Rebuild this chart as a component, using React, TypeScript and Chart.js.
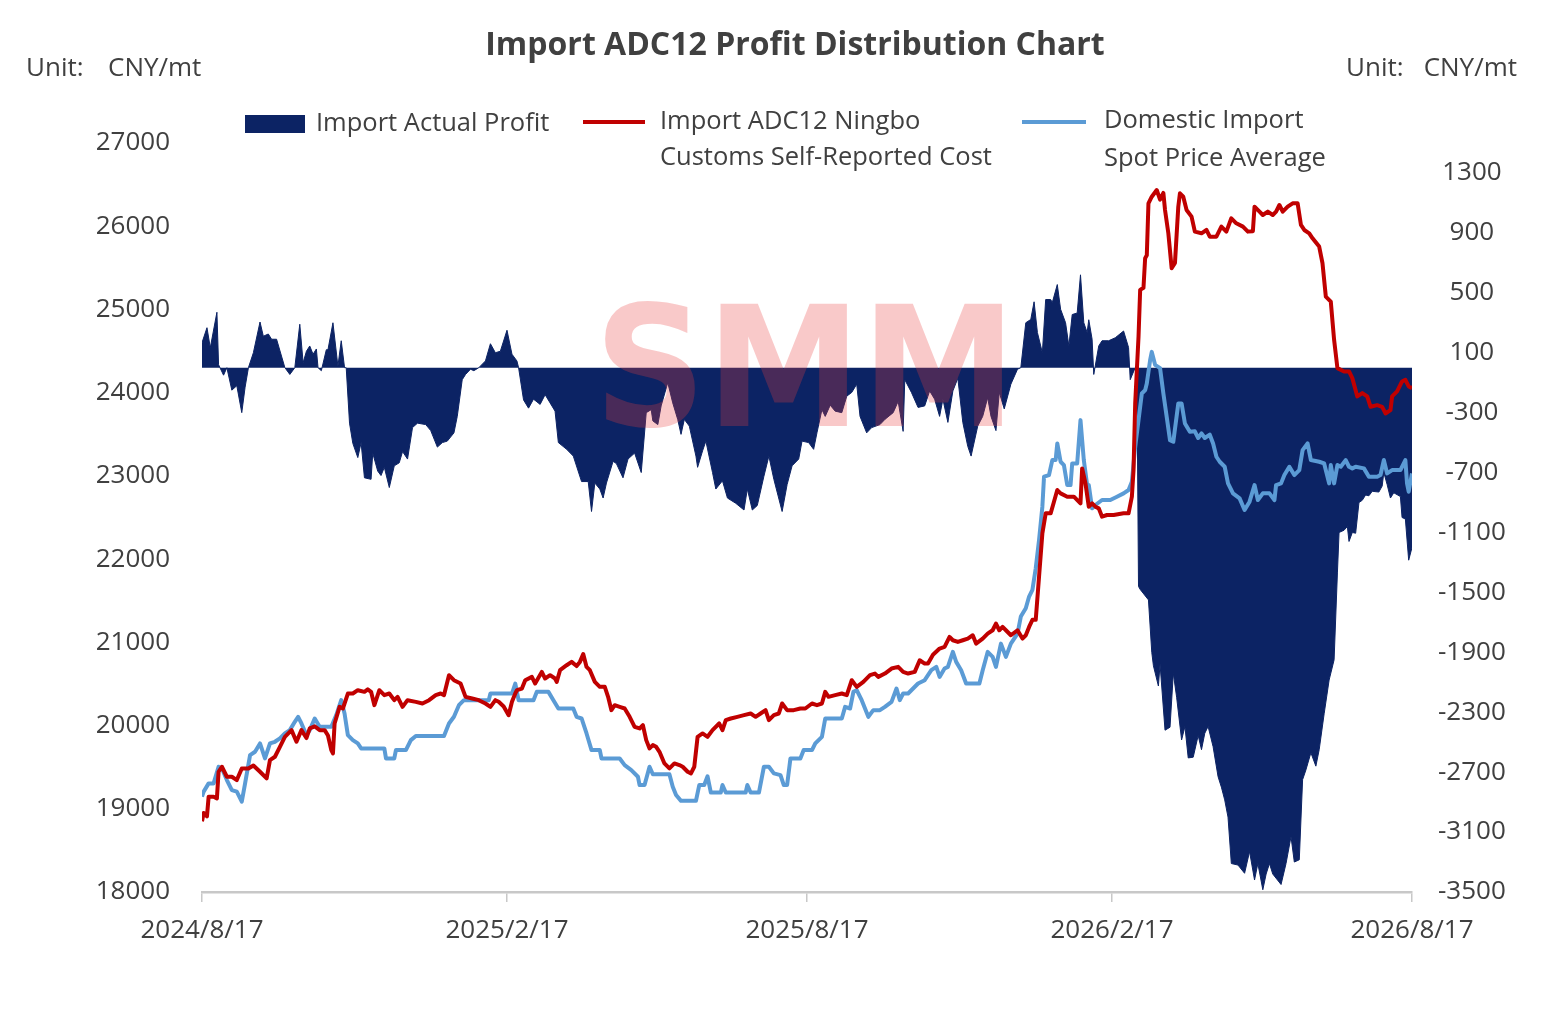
import React, { useEffect, useRef } from "react";
import Chart from "chart.js/auto";

// x values are days counted from 2024/8/17
const xTickDays = [0, 184, 365, 549, 730];
const xTickLabels = ["2024/8/17", "2025/2/17", "2025/8/17", "2026/2/17", "2026/8/17"];
const leftTicks = [18000, 19000, 20000, 21000, 22000, 23000, 24000, 25000, 26000, 27000];
const rightTicks = [-3500, -3100, -2700, -2300, -1900, -1500, -1100, -700, -300, 100, 500, 900, 1300];

// Import Actual Profit (right axis)
const profitDays = [
  0, 3, 5, 9, 10, 13, 15, 18, 21, 24, 26, 28, 31, 35, 37, 40, 42, 45, 50, 53, 56, 59, 61, 63, 65, 67, 69, 70,
  72, 75, 76, 79, 82, 84, 86, 87, 89, 91, 94, 96, 98, 102, 103, 106, 108, 110, 113, 116, 119, 121, 124, 127,
  130, 135, 138, 142, 145, 148, 152, 154, 157, 159, 162, 164, 167, 171, 174, 177, 180, 184, 187, 190, 191,
  194, 197, 200, 204, 207, 210, 213, 215, 220, 224, 229, 233, 235, 237, 240, 242, 244, 248, 250, 254, 257,
  261, 265, 268, 271, 272, 275, 277, 281, 284, 287, 289, 291, 294, 298, 299, 302, 304, 308, 310, 314, 317,
  322, 327, 329, 332, 335, 339, 342, 345, 350, 353, 356, 360, 362, 366, 369, 371, 374, 376, 379, 382, 386,
  389, 392, 395, 397, 401, 404, 409, 412, 417, 420, 423, 424, 428, 432, 436, 439, 442, 445, 447, 450, 453,
  456, 459, 462, 464, 468, 471, 474, 476, 479, 481, 484, 488, 492, 494, 497, 500, 502, 504, 507, 509, 512,
  513, 516, 518, 521, 523, 525, 528, 530, 532, 534, 535, 537, 538, 541, 543, 547, 551, 556, 559, 560, 563,
  564, 565, 566, 571, 573, 574, 577, 578, 581, 584, 586, 588, 591, 593, 595, 598, 601, 603, 605, 607, 610,
  613, 615, 617, 619, 621, 625, 629, 632, 635, 637, 640, 642, 644, 646, 651, 654, 657, 659, 662, 664, 666,
  669, 672, 674, 677, 680, 683, 685, 686, 689, 691, 692, 694, 696, 698, 700, 702, 704, 706, 710, 712, 713,
  715, 717, 719, 723, 724, 726, 728, 730,
];
const profitValues = [
  167, 267, 133, 370, 20, -50, 0, -150, -120, -300, -130, 0, 100, 305, 210, 225, 190, 190, 0, -45, 0, 290, 33,
  110, 145, 90, 125, 0, -20, 120, 120, 300, 10, 180, 0, 0, -370, -505, -600, -500, -735, -745, -570, -690,
  -720, -665, -800, -655, -635, -560, -610, -400, -370, -380, -420, -530, -500, -490, -435, -325, -80, -45,
  -10, -20, 0, 45, 160, 100, 110, 250, 90, 45, 0, -215, -270, -210, -245, -180, -235, -290, -500, -545, -590,
  -760, -760, -960, -770, -810, -870, -770, -625, -640, -735, -610, -570, -700, -300, -280, -355, -380, -255,
  -100, -235, -345, -445, -345, -390, -590, -665, -555, -490, -700, -810, -755, -870, -905, -950, -810, -950,
  -920, -725, -590, -745, -960, -780, -655, -610, -490, -500, -545, -435, -280, -325, -250, -290, -300, -190,
  -165, -110, -325, -435, -400, -380, -345, -300, -225, -425, -80, -165, -265, -255, -155, -210, -325, -210,
  -365, -155, -70, -365, -525, -590, -390, -325, -200, -325, -420, -165, -275, -110, -10, 0, 300, 322, 440,
  235, 100, 455, 455, 435, 555, 390, 300, 145, 355, 365, 620, 300, 235, 320, 190, -45, 145, 180, 180, 200,
  245, 135, -80, 0, 0, -1460, -1480, -1550, -1900, -1990, -2125, -1980, -2420, -2400, -2040, -2200, -2485,
  -2395, -2605, -2600, -2455, -2550, -2440, -2395, -2530, -2730, -2800, -2885, -3000, -3310, -3320, -3375,
  -3230, -3420, -3310, -3485, -3380, -3310, -3380, -3450, -3310, -3130, -3300, -3285, -2750, -2685, -2570,
  -2660, -2550, -2310, -2085, -1950, -1370, -1100, -1085, -1060, -1160, -1100, -1105, -900, -885, -850, -855,
  -825, -830, -790, -700, -780, -870, -835, -860, -1000, -1010, -1285, -1200,
];

// Import ADC12 Ningbo Customs Self-Reported Cost (left axis)
const ningboDays = [
  0, 1, 3, 4, 7, 9, 10, 12, 15, 18, 21, 24, 28, 31, 35, 39, 41, 44, 47, 50, 54, 57, 60, 63, 65, 68, 71, 74, 76,
  78, 79, 80, 83, 85, 88, 91, 94, 98, 100, 102, 104, 107, 110, 113, 116, 118, 121, 124, 129, 133, 137, 141,
  144, 146, 149, 152, 156, 159, 163, 167, 171, 174, 177, 179, 182, 185, 187, 189, 190, 193, 195, 199, 201,
  205, 207, 210, 213, 214, 216, 220, 223, 226, 228, 230, 232, 234, 237, 240, 243, 245, 247, 249, 252, 255,
  258, 261, 264, 266, 268, 270, 272, 274, 276, 279, 282, 285, 288, 290, 293, 295, 297, 299, 302, 305, 308,
  312, 314, 316, 319, 323, 327, 331, 334, 337, 340, 342, 345, 348, 350, 353, 357, 361, 364, 368, 371, 374,
  376, 378, 382, 386, 389, 392, 395, 399, 403, 406, 408, 412, 416, 420, 423, 426, 430, 433, 436, 438, 441,
  445, 448, 451, 453, 456, 459, 462, 465, 467, 471, 474, 477, 479, 481, 483, 485, 488, 492, 495, 497, 499,
  501, 503, 505, 507, 509, 512, 514, 516, 518, 522, 526, 530, 531, 533, 535, 537, 539, 541, 543, 546, 550,
  556, 559, 561, 562, 563, 565, 566, 568, 569, 570, 571, 573, 576, 578, 580, 581, 583, 585, 587, 589, 590,
  592, 594, 597, 599, 603, 606, 608, 612, 615, 618, 621, 624, 628, 631, 634, 635, 638, 640, 643, 646, 648,
  650, 652, 655, 658, 661, 663, 665, 668, 670, 674, 676, 678, 681, 683, 685, 689, 692, 694, 697, 700, 703,
  705, 709, 712, 714, 717, 718, 721, 724, 726, 728, 730,
];
const ningboValues = [
  18850, 18950, 18910, 19145, 19145, 19125, 19445, 19505, 19385, 19385, 19345, 19485, 19485, 19520, 19445,
  19365, 19585, 19625, 19745, 19865, 19945, 19805, 19945, 19850, 19965, 19990, 19945, 19945, 19880, 19705,
  19665, 20025, 20225, 20205, 20385, 20385, 20425, 20405, 20435, 20405, 20245, 20425, 20365, 20385, 20305,
  20345, 20225, 20305, 20285, 20265, 20305, 20365, 20385, 20365, 20605, 20545, 20505, 20345, 20325, 20305,
  20265, 20225, 20305, 20285, 20230, 20125, 20285, 20385, 20425, 20445, 20545, 20585, 20505, 20645, 20565,
  20605, 20565, 20525, 20665, 20725, 20765, 20715, 20765, 20860, 20705, 20665, 20525, 20465, 20465, 20345,
  20185, 20245, 20225, 20205, 20105, 19985, 19965, 20005, 19825, 19725, 19765, 19745, 19685, 19545, 19485,
  19545, 19525, 19505, 19445, 19425, 19505, 19865, 19905, 19865, 19945, 20025, 19945, 20065, 20085, 20105,
  20125, 20145, 20105, 20145, 20185, 20065, 20125, 20145, 20265, 20185, 20185, 20205, 20205, 20265, 20245,
  20265, 20405, 20345, 20365, 20385, 20365, 20545, 20465, 20525, 20605, 20625, 20585, 20625, 20685, 20705,
  20645, 20625, 20645, 20785, 20745, 20745, 20850, 20925, 20945, 21065, 21025, 21005, 21025, 21045, 21085,
  20985, 21045, 21105, 21145, 21225, 21145, 21185, 21145, 21085, 21145, 21045, 21085, 21185, 21270, 21270,
  21790, 22310, 22550, 22550, 22690, 22830, 22790, 22750, 22750, 22670, 23090, 22910, 22630, 22670, 22630,
  22610, 22510, 22530, 22530, 22550, 22550, 22750, 23070, 23870, 24670, 25235, 25260, 25615, 25650, 26275,
  26355, 26435, 26320, 26400, 26195, 25915, 25495, 25560, 26235, 26395, 26355, 26195, 26115, 25935, 25915,
  25955, 25875, 25875, 25995, 25935, 26095, 26035, 25995, 25935, 25940, 26235, 26175, 26135, 26175, 26135,
  26175, 26255, 26175, 26235, 26275, 26275, 26015, 25955, 25915, 25855, 25755, 25555, 25155, 25095, 24635,
  24295, 24255, 24255, 24175, 23955, 23995, 23955, 23830, 23850, 23830, 23750, 23790, 23955, 24015, 24135,
  24155, 24075, 24055,
];

// Domestic Import Spot Price Average (left axis)
const spotDays = [
  0, 1, 4, 7, 10, 12, 15, 18, 21, 24, 26, 29, 32, 35, 38, 41, 44, 47, 50, 53, 56, 58, 60, 63, 65, 68, 71, 73,
  78, 81, 84, 86, 88, 91, 94, 96, 110, 111, 116, 117, 123, 126, 129, 146, 149, 152, 155, 158, 173, 174, 187,
  189, 191, 200, 202, 209, 212, 215, 224, 226, 229, 232, 235, 240, 241, 252, 255, 259, 263, 264, 267, 270,
  272, 282, 284, 286, 289, 298, 300, 303, 305, 307, 313, 314, 316, 328, 329, 331, 336, 339, 342, 345, 349,
  351, 353, 355, 361, 363, 368, 370, 374, 376, 386, 388, 391, 393, 395, 398, 402, 405, 409, 412, 416, 419,
  421, 423, 426, 432, 436, 440, 443, 445, 448, 450, 453, 455, 458, 461, 469, 471, 474, 477, 479, 482, 485,
  488, 492, 494, 497, 499, 501, 503, 505, 507, 508, 511, 513, 515, 516, 518, 520, 522, 524, 525, 528, 530,
  532, 534, 535, 537, 539, 543, 548, 552, 556, 559, 561, 563, 565, 567, 569, 570, 572, 573, 575, 578, 580,
  582, 584, 586, 589, 591, 593, 596, 599, 601, 603, 605, 608, 610, 612, 614, 617, 619, 622, 626, 629, 632,
  635, 637, 640, 644, 647, 648, 651, 653, 656, 659, 662, 664, 667, 669, 674, 677, 680, 681, 683, 685, 687,
  690, 692, 694, 696, 701, 704, 709, 711, 713, 715, 718, 723, 726, 727, 728, 730,
];
const spotValues = [
  19145, 19205, 19305, 19305, 19505, 19485, 19345, 19225, 19205, 19085, 19305, 19645, 19685, 19785, 19605,
  19785, 19805, 19845, 19905, 19945, 20045, 20105, 20025, 19885, 19945, 20085, 19985, 19985, 19985, 20125,
  20305, 20145, 19885, 19825, 19785, 19725, 19725, 19605, 19605, 19705, 19705, 19825, 19875, 19875, 20025,
  20105, 20245, 20305, 20305, 20385, 20385, 20505, 20305, 20305, 20405, 20405, 20305, 20205, 20205, 20105,
  20085, 19905, 19705, 19705, 19605, 19605, 19525, 19465, 19385, 19285, 19285, 19505, 19415, 19415, 19265,
  19165, 19095, 19095, 19285, 19285, 19390, 19195, 19195, 19285, 19195, 19195, 19285, 19195, 19195, 19505,
  19505, 19425, 19405, 19285, 19285, 19605, 19605, 19705, 19705, 19785, 19865, 20085, 20085, 20225, 20205,
  20405, 20425, 20305, 20105, 20185, 20185, 20225, 20285, 20445, 20305, 20385, 20385, 20505, 20545, 20665,
  20705, 20585, 20685, 20705, 20885, 20765, 20665, 20505, 20505, 20665, 20885, 20825, 20705, 20985, 20825,
  20985, 21105, 21310, 21410, 21550, 21630, 21890, 22230, 22630, 22990, 23010, 23190, 23190, 23390, 23170,
  23130, 22890, 22890, 23150, 23150, 23670, 23190, 22890, 22890, 22610, 22650, 22710, 22710, 22750, 22790,
  22830, 22930, 23350, 23670, 23990, 24030, 24110, 24390, 24490, 24335, 24295, 23990, 23710, 23430, 23410,
  23870, 23870, 23630, 23530, 23535, 23455, 23510, 23455, 23495, 23390, 23230, 23170, 23110, 22910, 22790,
  22730, 22590, 22690, 22890, 22710, 22790, 22790, 22710, 22890, 22910, 23010, 23110, 23010, 23070, 23310,
  23390, 23190, 23170, 23150, 22910, 23130, 22910, 23130, 23110, 23190, 23110, 23090, 23110, 23090, 22990,
  22990, 23010, 23190, 23030, 23070, 23070, 23190, 22910, 22810, 23030,
];

const FONT = "'Open Sans', 'Noto Sans', 'DejaVu Sans', sans-serif";
const TEXT = "#404040";
const NAVY = "#0c2364";
const RED = "#c00000";
const BLUE = "#5b9bd5";

const toPoints = (days: number[], values: number[]) => days.map((d, i) => ({ x: d, y: values[i] }));

const decorPlugin = {
  id: "decor",
  afterDatasetsDraw(chart: any) {
    const { ctx, chartArea: ca } = chart;
    const w = ca.right - ca.left;
    const h = ca.bottom - ca.top;
    // SMM watermark
    const boxL = ca.left + 0.333 * w;
    const boxT = ca.top + 0.21 * h;
    const boxW = 0.329 * w;
    const boxH = 0.17 * h;
    ctx.save();
    ctx.font = "bold 100px 'DejaVu Sans', sans-serif";
    const m = ctx.measureText("SMM");
    const tw = m.actualBoundingBoxLeft + m.actualBoundingBoxRight;
    const th = m.actualBoundingBoxAscent + m.actualBoundingBoxDescent;
    ctx.translate(boxL, boxT);
    ctx.scale(boxW / tw, boxH / th);
    ctx.fillStyle = "rgba(235, 60, 60, 0.28)";
    ctx.textBaseline = "alphabetic";
    ctx.textAlign = "left";
    ctx.fillText("SMM", m.actualBoundingBoxLeft, m.actualBoundingBoxAscent);
    ctx.restore();
  },
  afterDraw(chart: any) {
    const { ctx } = chart;
    ctx.save();
    ctx.fillStyle = TEXT;
    ctx.textBaseline = "middle";

    ctx.font = `bold 32px ${FONT}`;
    ctx.textAlign = "center";
    ctx.fillText("Import ADC12 Profit Distribution Chart", 795, 46);

    ctx.font = `26px ${FONT}`;
    ctx.textAlign = "left";
    ctx.fillText("Unit:", 26, 69);
    ctx.fillText("CNY/mt", 108, 69);
    ctx.fillText("Unit:", 1346, 69);
    ctx.textAlign = "right";
    ctx.fillText("CNY/mt", 1517, 69);

    // legend
    ctx.font = `25.5px ${FONT}`;
    ctx.textAlign = "left";
    ctx.fillStyle = NAVY;
    ctx.fillRect(245, 115, 60, 18);
    ctx.fillStyle = TEXT;
    ctx.fillText("Import Actual Profit", 316, 124);

    ctx.lineWidth = 4;
    ctx.strokeStyle = RED;
    ctx.beginPath();
    ctx.moveTo(583, 122);
    ctx.lineTo(645, 122);
    ctx.stroke();
    ctx.fillText("Import ADC12 Ningbo", 660, 122);
    ctx.fillText("Customs Self-Reported Cost", 660, 158);

    ctx.strokeStyle = BLUE;
    ctx.beginPath();
    ctx.moveTo(1022, 122);
    ctx.lineTo(1086, 122);
    ctx.stroke();
    ctx.fillText("Domestic Import", 1104, 121);
    ctx.fillText("Spot Price Average", 1104, 159);
    ctx.restore();
  },
};

const App: React.FC = () => {
  const canvasRef = useRef<HTMLCanvasElement | null>(null);

  useEffect(() => {
    if (!canvasRef.current) return;
    const ctx = canvasRef.current.getContext("2d");
    if (!ctx) return;

    const chart = new Chart(ctx, {
      type: "line",
      data: {
        datasets: [
          {
            label: "Import ADC12 Ningbo Customs Self-Reported Cost",
            data: toPoints(ningboDays, ningboValues),
            yAxisID: "yLeft",
            borderColor: RED,
            borderWidth: 4,
            borderJoinStyle: "round",
            pointRadius: 0,
            fill: false,
            tension: 0,
          },
          {
            label: "Domestic Import Spot Price Average",
            data: toPoints(spotDays, spotValues),
            yAxisID: "yLeft",
            borderColor: BLUE,
            borderWidth: 4,
            borderJoinStyle: "round",
            pointRadius: 0,
            fill: false,
            tension: 0,
          },
          {
            label: "Import Actual Profit",
            data: toPoints(profitDays, profitValues),
            yAxisID: "yRight",
            borderColor: NAVY,
            backgroundColor: NAVY,
            borderWidth: 1,
            pointRadius: 0,
            fill: "origin",
            tension: 0,
          },
        ],
      },
      options: {
        responsive: false,
        animation: false,
        devicePixelRatio: 1,
        layout: { padding: { top: 143, left: 0, right: 0, bottom: 0 } },
        plugins: {
          legend: { display: false },
          title: { display: false },
          tooltip: { enabled: false },
        },
        scales: {
          x: {
            type: "linear",
            min: 0,
            max: 730,
            afterBuildTicks: (scale: any) => {
              scale.ticks = xTickDays.map((v) => ({ value: v }));
            },
            afterFit: (scale: any) => {
              scale.height = 119;
            },
            ticks: {
              callback: (_v: any, i: number) => xTickLabels[i],
              color: TEXT,
              font: { family: FONT, size: 26 },
              padding: 13,
              maxRotation: 0,
              autoSkip: false,
            },
            grid: {
              drawOnChartArea: false,
              drawTicks: true,
              tickLength: 10,
              color: "#c8c8c8",
              lineWidth: 1.5,
            },
            border: { display: true, color: "#c8c8c8", width: 2.5 },
          },
          yLeft: {
            type: "linear",
            position: "left",
            min: 18000,
            max: 27000,
            afterBuildTicks: (scale: any) => {
              scale.ticks = leftTicks.map((v) => ({ value: v }));
            },
            afterFit: (scale: any) => {
              scale.width = 202;
            },
            ticks: {
              callback: (v: any) => String(v),
              color: TEXT,
              font: { family: FONT, size: 26 },
              padding: 24,
            },
            grid: { display: false },
            border: { display: false },
          },
          yRight: {
            type: "linear",
            position: "right",
            min: -3500,
            max: 1500,
            afterBuildTicks: (scale: any) => {
              scale.ticks = rightTicks.map((v) => ({ value: v }));
            },
            afterFit: (scale: any) => {
              scale.width = 144;
            },
            ticks: {
              callback: (v: any) => String(v),
              color: TEXT,
              font: { family: FONT, size: 26 },
              padding: 18,
              crossAlign: "center",
            },
            grid: { display: false },
            border: { display: false },
          },
        },
      },
      plugins: [decorPlugin],
    });

    return () => {
      chart.destroy();
    };
  }, []);

  return (
    <div style={{ position: "fixed", left: 0, top: 0, width: 1556, height: 1011, background: "#ffffff" }}>
      <canvas ref={canvasRef} width={1556} height={1011} style={{ display: "block" }}></canvas>
    </div>
  );
};

export default App;
